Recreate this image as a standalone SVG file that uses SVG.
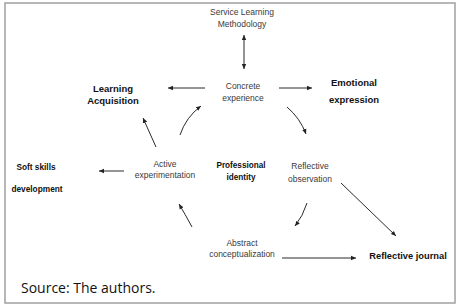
<svg xmlns="http://www.w3.org/2000/svg" width="462" height="307" viewBox="0 0 462 307">
<defs>
<marker id="ah" markerUnits="userSpaceOnUse" markerWidth="6" markerHeight="6" refX="5" refY="3" orient="auto-start-reverse">
<path d="M0,0.8 L5,3 L0,5.2 Z" fill="#222"/>
</marker>
</defs>
<style>
.r{font-family:"Liberation Sans",Arial,sans-serif;font-size:8.5px;fill:#3a3a3a;text-anchor:middle}
.b{font-family:"Liberation Sans",Arial,sans-serif;font-weight:bold;fill:#111;text-anchor:middle}
.c{fill:none;stroke:#2a2a2a;stroke-width:1;marker-end:url(#ah)}
</style>
<rect x="5" y="3" width="450" height="300" fill="#fff" stroke="#a0a0a0" stroke-width="1.5"/>
<g id="connectors">
<path class="c" d="M244,35 L244,69" marker-start="url(#ah)"/>
<path class="c" d="M205,88 L168,88"/>
<path class="c" d="M279,88 L312,88"/>
<path class="c" d="M287,107 Q300,118 306,134"/>
<path class="c" d="M307,203 Q303,216 295,226"/>
<path class="c" d="M192,227 Q185,214 179,204"/>
<path class="c" d="M180,135 Q186,117 201,106"/>
<path class="c" d="M156,147 L143,118"/>
<path class="c" d="M124,171 L99,171"/>
<path class="c" d="M341,183 L396,236"/>
<path class="c" d="M282,258 L356,258"/>
</g>
<g id="service-learning"><text class="r" x="242" y="15">Service Learning</text><text class="r" x="242" y="27">Methodology</text></g>
<g id="concrete-experience"><text class="r" x="243" y="89">Concrete</text><text class="r" x="243" y="101">experience</text></g>
<g id="learning-acquisition"><text class="b" font-size="9.5" x="113" y="92">Learning</text><text class="b" font-size="9.5" x="113" y="104">Acquisition</text></g>
<g id="emotional-expression"><text class="b" font-size="9.5" x="354" y="86">Emotional</text><text class="b" font-size="9.5" x="354" y="103">expression</text></g>
<g id="active-experimentation"><text class="r" x="165" y="167">Active</text><text class="r" x="165" y="178">experimentation</text></g>
<g id="professional-identity"><text class="b" font-size="8.2" x="241" y="168">Professional</text><text class="b" font-size="8.2" x="241" y="180">identity</text></g>
<g id="reflective-observation"><text class="r" x="310" y="169">Reflective</text><text class="r" x="310" y="182">observation</text></g>
<g id="soft-skills"><text class="b" font-size="8.3" x="36" y="170">Soft skills</text><text class="b" font-size="8.3" x="37" y="192">development</text></g>
<g id="abstract-conceptualization"><text class="r" x="242" y="246">Abstract</text><text class="r" x="242" y="257">conceptualization</text></g>
<g id="reflective-journal"><text class="b" font-size="9.3" x="408" y="258.5">Reflective journal</text></g>
<text x="21" y="293" font-family="'Open Sans','Noto Sans',sans-serif" font-size="14" fill="#111">Source: The authors.</text>
</svg>
